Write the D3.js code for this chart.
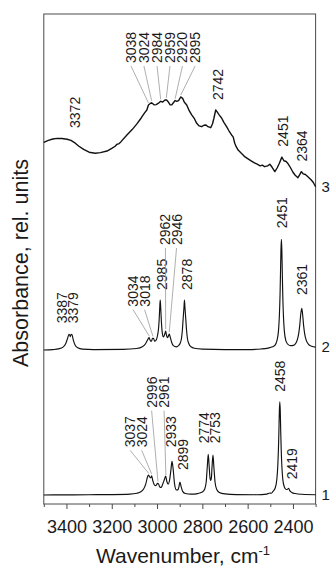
<!DOCTYPE html>
<html>
<head>
<meta charset="utf-8">
<script src="https://cdn.jsdelivr.net/npm/d3@7"></script>
<style>
  body { margin: 0; background: #fff; }
  svg { display: block; }
  text { font-family: "Liberation Sans", Arial, Helvetica, sans-serif; fill: #1a1a1a; }
</style>
</head>
<body>
<svg id="chart" width="332" height="567"></svg>
<script>
// ---- data -------------------------------------------------------------
// IR spectra: [wavenumber (cm-1), absorbance relative to own baseline]
const spectrum1 = [
  [3500,0],[3400,0.001],[3300,0.002],[3200,0.003],[3120,0.006],[3090,0.012],[3072,0.022],
  [3060,0.04],[3050,0.075],[3043,0.12],[3038,0.138],[3033,0.125],[3028,0.118],[3024,0.132],
  [3019,0.1],[3012,0.07],[3005,0.065],[2998,0.08],[2994,0.078],[2988,0.055],[2982,0.052],
  [2975,0.075],[2968,0.105],[2962,0.13],[2957,0.095],[2951,0.075],[2945,0.1],[2939,0.17],
  [2934,0.232],[2929,0.18],[2923,0.08],[2915,0.035],[2908,0.035],[2903,0.06],[2899,0.09],
  [2894,0.06],[2887,0.025],[2875,0.01],[2850,0.006],[2820,0.01],[2800,0.02],[2790,0.04],
  [2783,0.09],[2778,0.2],[2774,0.28],[2770,0.2],[2766,0.115],[2763,0.1],[2760,0.12],
  [2757,0.2],[2753,0.275],[2749,0.19],[2744,0.09],[2737,0.04],[2725,0.018],[2700,0.008],
  [2650,0.003],[2560,0.002],[2515,0.006],[2502,0.014],[2495,0.012],[2488,0.025],[2478,0.05],
  [2471,0.11],[2467,0.2],[2464,0.32],[2462,0.44],[2460,0.58],[2458,0.643],[2456,0.58],
  [2454,0.44],[2452,0.32],[2449,0.2],[2445,0.11],[2438,0.055],[2430,0.038],[2424,0.04],
  [2419,0.046],[2414,0.03],[2405,0.018],[2390,0.01],[2360,0.005],[2300,0.002]
];
const spectrum2 = [
  [3500,0],[3460,0.003],[3435,0.008],[3415,0.02],[3403,0.045],[3395,0.08],[3389,0.108],
  [3386,0.105],[3383,0.092],[3380,0.105],[3376,0.108],[3370,0.07],[3362,0.035],[3350,0.015],
  [3330,0.006],[3280,0.003],[3150,0.004],[3090,0.01],[3065,0.022],[3050,0.045],[3040,0.075],
  [3035,0.085],[3030,0.065],[3025,0.06],[3020,0.08],[3016,0.08],[3010,0.06],[3003,0.07],
  [2998,0.1],[2994,0.14],[2991,0.2],[2988,0.297],[2986,0.345],[2984,0.297],[2981,0.2],
  [2977,0.12],[2972,0.09],[2966,0.11],[2962,0.13],[2958,0.1],[2953,0.085],[2949,0.1],
  [2946,0.11],[2942,0.09],[2936,0.055],[2928,0.03],[2915,0.022],[2905,0.03],[2897,0.05],
  [2892,0.081],[2888,0.141],[2885,0.21],[2881,0.297],[2879,0.345],[2877,0.297],[2873,0.21],
  [2870,0.141],[2866,0.081],[2860,0.045],[2850,0.022],[2835,0.012],[2800,0.006],[2700,0.003],
  [2600,0.003],[2540,0.007],[2510,0.013],[2490,0.022],[2480,0.032],[2471,0.063],[2464,0.13],
  [2460,0.235],[2457,0.38],[2455,0.53],[2453,0.687],[2451,0.763],[2449,0.687],[2447,0.53],
  [2445,0.38],[2442,0.235],[2438,0.13],[2431,0.063],[2421,0.037],[2410,0.03],[2398,0.032],
  [2388,0.045],[2381,0.07],[2375,0.11],[2370,0.17],[2366,0.24],[2361,0.288],[2357,0.24],
  [2353,0.17],[2348,0.11],[2342,0.07],[2332,0.04],[2318,0.026],[2300,0.02]
];
const spectrum3 = [
  [3500,0.432],[3480,0.445],[3460,0.455],[3441,0.459],[3420,0.458],[3397,0.453],[3380,0.445],
  [3361,0.426],[3345,0.405],[3324,0.383],[3300,0.364],[3273,0.357],[3250,0.361],[3221,0.372],
  [3200,0.39],[3185,0.405],[3177,0.419],[3170,0.421],[3160,0.435],[3133,0.483],[3110,0.52],
  [3089,0.559],[3070,0.6],[3055,0.635],[3045,0.655],[3038,0.69],[3030,0.7],[3024,0.705],
  [3012,0.69],[3004,0.692],[2995,0.7],[2984,0.715],[2975,0.71],[2965,0.724],[2959,0.725],
  [2950,0.71],[2942,0.69],[2935,0.69],[2928,0.705],[2920,0.72],[2913,0.715],[2905,0.72],
  [2895,0.745],[2887,0.735],[2880,0.71],[2869,0.69],[2858,0.65],[2847,0.621],[2835,0.595],
  [2825,0.563],[2814,0.545],[2803,0.54],[2793,0.55],[2784,0.552],[2775,0.54],[2763,0.533],
  [2755,0.56],[2749,0.598],[2741,0.655],[2734,0.64],[2725,0.62],[2715,0.6],[2705,0.57],
  [2693,0.54],[2682,0.51],[2671,0.483],[2664,0.47],[2657,0.426],[2650,0.4],[2642,0.379],
  [2630,0.36],[2620,0.345],[2613,0.333],[2600,0.32],[2583,0.303],[2570,0.29],[2558,0.281],
  [2545,0.27],[2535,0.275],[2525,0.264],[2512,0.27],[2502,0.281],[2492,0.26],[2480,0.23],
  [2470,0.255],[2460,0.288],[2449,0.33],[2440,0.305],[2430,0.3],[2422,0.285],[2410,0.255],
  [2400,0.226],[2390,0.205],[2378,0.188],[2370,0.21],[2363,0.23],[2355,0.215],[2345,0.21],
  [2334,0.195],[2319,0.172],[2310,0.155],[2300,0.126]
];

const spectrumNames = ["1", "2", "3"];
const spectrumOffsets = [0, 1, 2];

// assigned band positions, cm-1
const peaks1 = [3037, 3024, 2996, 2961, 2933, 2899, 2774, 2753, 2458, 2419];
const peaks2 = [3387, 3379, 3034, 3018, 2985, 2962, 2946, 2878, 2451, 2361];
const peaks3 = [3372, 3038, 3024, 2984, 2959, 2920, 2895, 2742, 2451, 2364];

const majorTicks = [3400, 3200, 3000, 2800, 2600, 2400];
const minorTicks = [3500, 3300, 3100, 2900, 2700, 2500, 2300];

// ---- label placement (wavenumber of label column, absorbance at label foot, leader line)
const labelLayout1 = [
  {col:3119, base:0.329, leader:true}, {col:3068, base:0.329, leader:true},
  {col:3024, base:0.602, leader:true}, {col:2969, base:0.602, leader:true},
  {col:2937, base:0.329}, {col:2884, base:0.172},
  {col:2793, base:0.357}, {col:2743, base:0.357},
  {col:2455, base:0.712}, {col:2404, base:0.108}
];
const labelLayout2 = [
  {col:3421, base:1.184}, {col:3373, base:1.184},
  {col:3106, base:1.299, leader:true}, {col:3055, base:1.299, leader:true},
  {col:2977, base:1.414},
  {col:2963, base:1.724, leader:true}, {col:2914, base:1.724, leader:true},
  {col:2869, base:1.414}, {col:2450, base:1.839}, {col:2361, base:1.379}
];
const labelLayout3 = [
  {col:3362, base:2.531},
  {col:3115, base:2.979, leader:true}, {col:3058, base:2.979, leader:true},
  {col:3000, base:2.979, leader:true}, {col:2943, base:2.979, leader:true},
  {col:2888, base:2.979, leader:true}, {col:2832, base:2.979, leader:true},
  {col:2730, base:2.724}, {col:2444, base:2.402}, {col:2358, base:2.299}
];

// ---- chart ------------------------------------------------------------
const svg = d3.select("#chart");
const x = d3.scaleLinear().domain([3500, 2300]).range([43.8, 315.6]);
const y = d3.scaleLinear().domain([-0.062, 3.317]).range([504, 14]);

const spectra = [spectrum1, spectrum2, spectrum3];
const peaks = [peaks1, peaks2, peaks3];
const layouts = [labelLayout1, labelLayout2, labelLayout3];

// frame
svg.append("rect")
  .attr("x", x(3500)).attr("y", y(3.317))
  .attr("width", x(2300) - x(3500)).attr("height", y(-0.062) - y(3.317))
  .attr("fill", "none").attr("stroke", "#4a4a4a").attr("stroke-width", 1);

// bottom axis: minor + major ticks
const axisG = svg.append("g").attr("transform", `translate(0,${y(-0.062)})`);
axisG.append("g")
  .call(d3.axisBottom(x).tickValues(minorTicks).tickSize(3).tickSizeOuter(0).tickFormat(""))
  .call(g => g.select(".domain").remove())
  .call(g => g.selectAll("line").attr("stroke", "#4a4a4a"));
axisG.append("g")
  .call(d3.axisBottom(x).tickValues(majorTicks).tickSize(5).tickSizeOuter(0).tickPadding(11).tickFormat(d3.format("d")))
  .call(g => g.select(".domain").remove())
  .call(g => g.selectAll("line").attr("stroke", "#4a4a4a"))
  .call(g => g.selectAll("text")
     .attr("font-size", 18).attr("fill", "#1a1a1a")
     .attr("font-family", "'Liberation Sans', Arial, sans-serif"));

// value of a spectrum at a wavenumber (for leader line ends)
function valueAt(data, wn) {
  for (let i = 0; i < data.length - 1; i++) {
    const a = data[i], b = data[i + 1];
    if (wn <= a[0] && wn >= b[0]) {
      const t = (a[0] - wn) / (a[0] - b[0]);
      return a[1] + t * (b[1] - a[1]);
    }
  }
  return 0;
}

spectra.forEach((data, i) => {
  const off = spectrumOffsets[i];
  const line = d3.line()
    .x(d => x(d[0]))
    .y(d => y(d[1] + off))
    .curve(i === 2 ? d3.curveLinear : d3.curveMonotoneX);
  svg.append("path")
    .datum(data)
    .attr("d", line)
    .attr("fill", "none")
    .attr("stroke", "#111")
    .attr("stroke-width", i === 2 ? 1.4 : 1.15)
    .attr("stroke-linejoin", "round");

  // spectrum number at right end
  const last = data[data.length - 1];
  svg.append("text")
    .attr("x", x(2300) + 6)
    .attr("y", y(last[1] + off))
    .attr("dy", "0.36em")
    .attr("font-size", 15)
    .text(spectrumNames[i]);

  // band labels
  const g = svg.append("g");
  peaks[i].forEach((wn, k) => {
    const L = layouts[i][k];
    const cx = x(L.col), by = y(L.base);
    g.append("text")
      .attr("transform", `translate(${cx + 5},${by}) rotate(-90)`)
      .attr("font-size", 14)
      .text(wn);
    if (L.leader) {
      g.append("line")
        .attr("x1", cx).attr("y1", by + 3)
        .attr("x2", x(wn)).attr("y2", y(valueAt(data, wn) + off) - 2)
        .attr("stroke", "#9a9a9a").attr("stroke-width", 0.8);
    }
  });
});

// axis titles
svg.append("text")
  .attr("transform", `translate(28,263) rotate(-90)`)
  .attr("text-anchor", "middle")
  .attr("font-size", 21.5)
  .text("Absorbance, rel. units");

const xt = svg.append("text")
  .attr("x", 183).attr("y", 563)
  .attr("text-anchor", "middle")
  .attr("font-size", 21);
xt.append("tspan").text("Wavenumber, cm");
xt.append("tspan").attr("font-size", 13).attr("dy", -8).text("-1");
</script>
</body>
</html>
